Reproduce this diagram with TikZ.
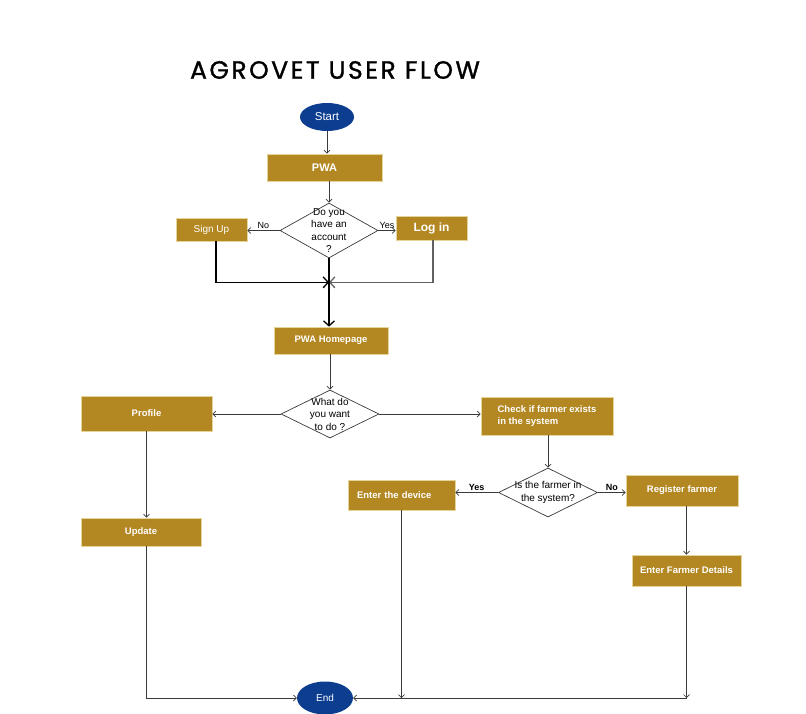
\documentclass[tikz,border=0pt]{standalone}
\usepackage{fontspec}
\setmainfont{Liberation Sans}
\newfontfamily\titlefont[FakeBold=1.2,LetterSpace=10]{Poppins}
\usetikzlibrary{shapes.geometric,arrows.meta}
\definecolor{gold}{HTML}{B38721}
\definecolor{goldline}{HTML}{E6D59A}
\definecolor{navy}{HTML}{0C3D8F}
\definecolor{wire}{HTML}{3A3A3A}
\tikzset{
  box/.style={rectangle, fill=gold, draw=goldline, line width=0.6pt, text=white,
    font=\bfseries\fontsize{9.5}{12}\selectfont, inner sep=0pt},
  terminal/.style={ellipse, fill=navy, text=white, inner sep=0pt,
    font=\fontsize{11.5}{13}\selectfont},
  decision/.style={diamond, draw=wire, fill=white, line width=0.7pt, inner sep=0pt},
  asks/.style={font=\fontsize{10}{12.5}\selectfont, align=center},
  flow/.style={draw=wire, line width=0.7pt, -{Straight Barb[length=3pt,width=6pt]}},
  merge/.style={draw=black, line width=1.3pt, -{Straight Barb[length=5pt,width=11pt]}},
  tag/.style={font=\fontsize{9}{10}\selectfont, inner sep=1.5pt}
}
\begin{document}
\begin{tikzpicture}[x=1pt,y=-1pt]
\useasboundingbox (0,0) rectangle (806,714);
%TITLE
\node at (335,70) {\titlefont\fontsize{25}{28}\selectfont AGROVET USER FLOW};

%TOP: LOGIN
\node[terminal, minimum width=54pt, minimum height=28pt] (start) at (327,117) {Start};
\node[box, minimum width=115pt, minimum height=27pt, font=\bfseries\fontsize{11}{13}\selectfont] (pwa) at (324.5,167.5) {PWA};
\node[decision, minimum width=98pt, minimum height=55pt,
  label={[asks]center:Do you\\have an\\account\\?}] (account) at (329,230.5) {};
\node[box, minimum width=71pt, minimum height=23pt, font=\fontsize{10}{12}\selectfont] (signup) at (211.5,229.5) {Sign Up};
\node[box, minimum width=71pt, minimum height=24pt, font=\bfseries\fontsize{12}{14}\selectfont] (login) at (431.5,228) {Log in};
\path (account.south) ++(0,24) coordinate (join);
\node[box, minimum width=114pt, minimum height=27pt] (home) at (331,340.5) {PWA Homepage};

\draw[flow] (start.south) -- (start.south |- pwa.north);
\draw[flow] (account.north |- pwa.south) -- (account.north);
\draw[flow] (account.west) -- node[tag, above]{No} (account.west -| signup.east);
\draw[flow] (account.east) -- node[tag, above]{Yes} (account.east -| login.west);
\draw[merge] ([xshift=4.5pt]signup.south) |- (join);
\draw[merge, draw=wire!80] ([xshift=1.5pt]login.south) |- (join);
\draw[merge] (account.south) -- (account.south |- home.north);

%MIDDLE: CHOICE
\node[decision, minimum width=98pt, minimum height=48pt,
  label={[asks]center:What do\\you want\\to do ?}] (choice) at (330,414) {};
\node[box, minimum width=131pt, minimum height=35pt] (profile) at (146.5,413.5) {Profile};
\node[box, minimum width=132pt, minimum height=38pt, align=left] (check) at (547,416) {Check if farmer exists\\in the system};
\node[decision, minimum width=99pt, minimum height=49pt,
  label={[asks]center:Is the farmer in\\the system?}] (exists) at (548,492.5) {};
\node[box, minimum width=107pt, minimum height=30pt, text width=89pt, align=left] (device) at (401.5,495) {Enter the device};
\node[box, minimum width=112pt, minimum height=31pt] (register) at (682,490.5) {Register farmer};
\node[box, minimum width=109pt, minimum height=31pt] (details) at (686.5,570.5) {Enter Farmer Details};
\node[box, minimum width=120pt, minimum height=28pt] (update) at (141,532) {Update};

\draw[flow] (home.south -| choice.north) -- (choice.north);
\draw[flow] (choice.west) -- (choice.west -| profile.east);
\draw[flow] (choice.east) -- (choice.east -| check.west);
\draw[flow] (exists.north |- check.south) -- (exists.north);
\draw[flow] (exists.west) -- node[tag, above, font=\bfseries\fontsize{9}{10}\selectfont]{Yes} (exists.west -| device.east);
\draw[flow] (exists.east) -- node[tag, above, font=\bfseries\fontsize{9}{10}\selectfont]{No} (exists.east -| register.west);
\draw[flow] (details.north |- register.south) -- (details.north);
\draw[flow] (profile.south) -- (profile.south |- update.north);

%BOTTOM: END
\node[terminal, minimum width=56pt, minimum height=33pt, font=\fontsize{10}{12}\selectfont] (finish) at (325,698) {End};
\coordinate (corner) at (details.south |- finish);
\draw[flow] (profile.south |- update.south) |- (finish.west);
\draw[flow] (device.south) -- (device.south |- finish);
\draw[flow] (details.south) -- (corner);
\draw[flow] (corner) -- (finish.east);
\end{tikzpicture}
\end{document}
